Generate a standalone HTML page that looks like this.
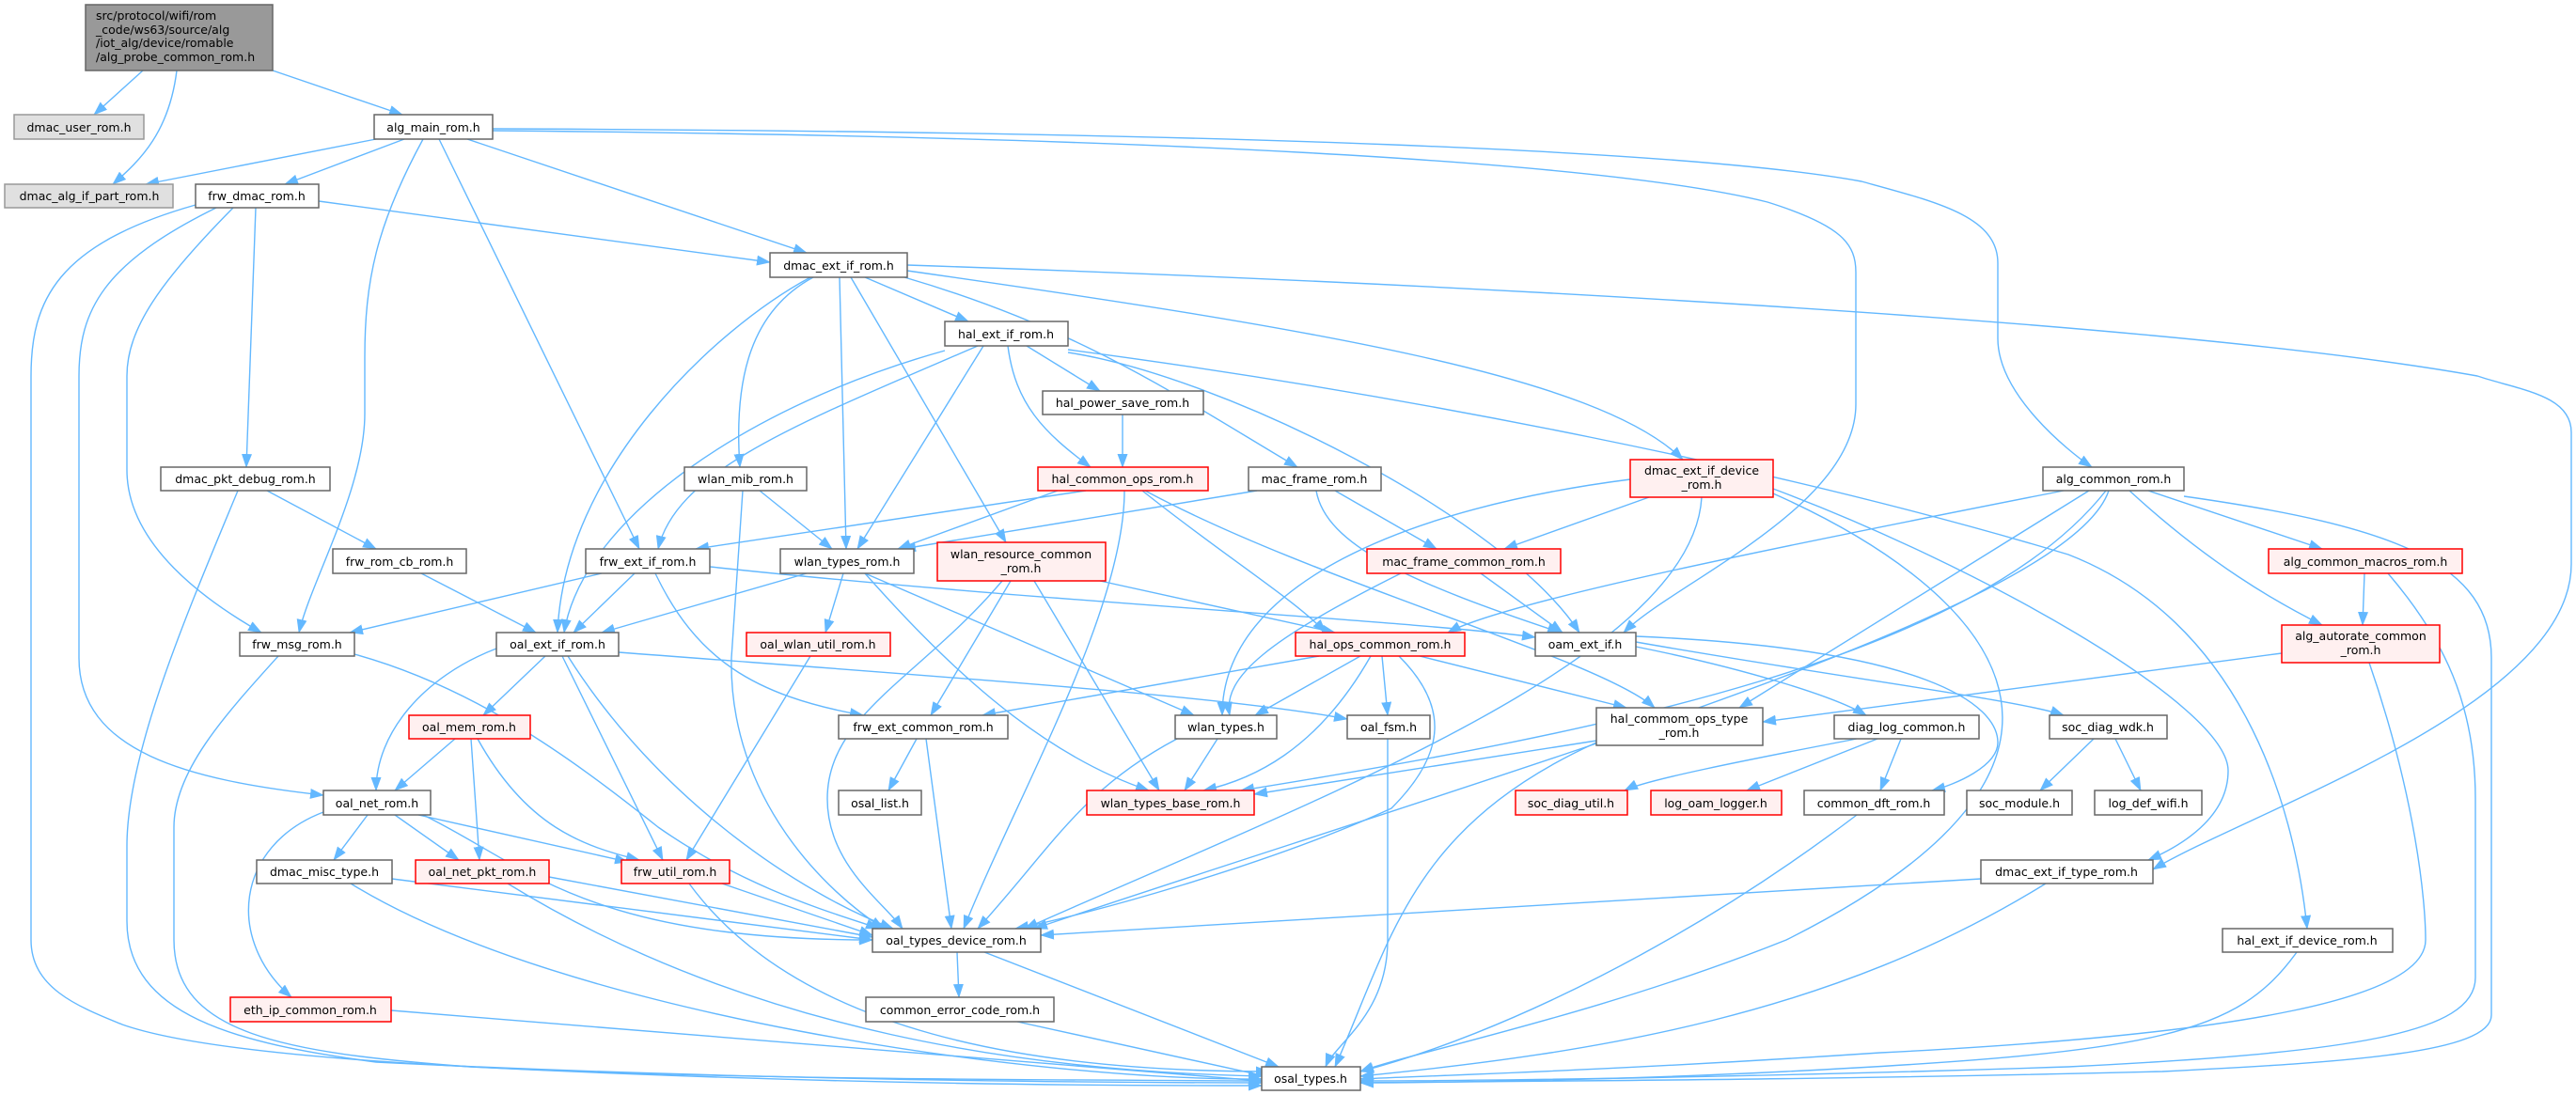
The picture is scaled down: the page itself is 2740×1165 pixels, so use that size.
<!DOCTYPE html>
<html><head><meta charset="utf-8"><style>
html,body{margin:0;padding:0;background:#fff;}
svg{display:block;}
text{font-family:"DejaVu Sans","Liberation Sans",sans-serif;font-size:12.5px;fill:#000;}
.e{fill:none;stroke:#63b8ff;stroke-width:1.4;marker-end:url(#a);}
.n{fill:#fff;stroke:#666;stroke-width:1.5;}
.r{fill:#fff0f0;stroke:#ff0000;stroke-width:1.5;}
.g{fill:#e0e0e0;stroke:#999;stroke-width:1.5;}
</style></head><body>
<svg width="2740" height="1165" viewBox="0 0 2740 1165" xmlns="http://www.w3.org/2000/svg">
<defs><marker id="a" markerUnits="userSpaceOnUse" markerWidth="15" markerHeight="11" refX="14" refY="5.5" orient="auto"><path d="M0,0 L15,5.5 L0,11 z" fill="#63b8ff"/></marker></defs>
<g>
<path class="e" d="M152,75 L100,122"/>
<path class="e" d="M188,75 C180,140 150,170 120,196"/>
<path class="e" d="M290,75 L428,122"/>
<path class="e" d="M400,148 L155,196"/>
<path class="e" d="M430,148 L303,196"/>
<path class="e" d="M450,148 C400,240 388,300 388,380 L388,440 C388,520 330,620 318,673"/>
<path class="e" d="M467,148 L680,584"/>
<path class="e" d="M497,148 L858,269"/>
<path class="e" d="M524,139 C1200,145 1700,170 1880,215 C1960,240 1974,260 1974,290 L1974,430 C1974,540 1780,620 1727,673"/>
<path class="e" d="M524,137 C1300,140 1800,160 1980,193 C2060,215 2125,230 2125,280 L2125,360 C2125,420 2200,480 2225,497"/>
<path class="e" d="M208,218 C60,260 33,320 33,400 L33,1000 C33,1050 80,1070 130,1090 C300,1150 1000,1148 1342,1150"/>
<path class="e" d="M230,221 C110,280 84,330 84,400 L84,700 C84,800 200,830 344,846"/>
<path class="e" d="M248,221 C170,300 135,350 135,400 L135,500 C135,580 220,640 278,673"/>
<path class="e" d="M272,221 L262,497"/>
<path class="e" d="M339,214 L819,279"/>
<path class="e" d="M284,522 L400,584"/>
<path class="e" d="M253,522 C200,650 135,800 135,900 L135,980 C135,1080 250,1110 400,1130 C800,1150 1200,1152 1342,1152"/>
<path class="e" d="M448,610 L570,673"/>
<path class="e" d="M296,698 C240,760 185,820 185,880 L185,1000 C185,1100 300,1120 500,1135 C900,1155 1200,1155 1342,1155"/>
<path class="e" d="M377,696 C500,730 600,800 700,880 C800,950 900,975 935,988"/>
<path class="e" d="M640,610 L372,673"/>
<path class="e" d="M675,610 L610,673"/>
<path class="e" d="M697,610 C740,700 800,740 918,761"/>
<path class="e" d="M755,603 C1100,640 1500,660 1633,678"/>
<path class="e" d="M858,610 L640,673"/>
<path class="e" d="M897,610 L878,673"/>
<path class="e" d="M920,610 L1270,761"/>
<path class="e" d="M920,610 C1000,700 1100,800 1222,841"/>
<path class="e" d="M580,698 L514,761"/>
<path class="e" d="M528,690 C450,720 400,780 400,841"/>
<path class="e" d="M598,698 L705,915"/>
<path class="e" d="M604,698 C700,850 850,950 950,988"/>
<path class="e" d="M658,694 C1000,720 1300,740 1433,765"/>
<path class="e" d="M862,698 L730,915"/>
<path class="e" d="M484,786 L420,841"/>
<path class="e" d="M501,786 L510,915"/>
<path class="e" d="M508,786 C560,880 620,900 680,915"/>
<path class="e" d="M391,867 L355,915"/>
<path class="e" d="M420,867 L488,915"/>
<path class="e" d="M445,867 L668,917"/>
<path class="e" d="M344,864 C250,900 240,1000 310,1061"/>
<path class="e" d="M450,867 C560,920 620,1000 928,1000"/>
<path class="e" d="M417,935 L928,1000"/>
<path class="e" d="M373,940 C600,1080 1100,1150 1342,1148"/>
<path class="e" d="M584,933 L928,997"/>
<path class="e" d="M540,940 C800,1100 1100,1140 1342,1145"/>
<path class="e" d="M768,940 L928,995"/>
<path class="e" d="M733,940 C850,1100 1100,1140 1350,1140"/>
<path class="e" d="M416,1075 L1342,1150"/>
<path class="e" d="M920,295 L1030,342"/>
<path class="e" d="M865,295 C800,330 780,400 787,497"/>
<path class="e" d="M862,295 C760,350 600,500 593,673"/>
<path class="e" d="M893,295 L900,584"/>
<path class="e" d="M905,295 L1070,577"/>
<path class="e" d="M962,295 C1150,350 1250,420 1380,497"/>
<path class="e" d="M965,288 C1400,350 1700,400 1790,489"/>
<path class="e" d="M965,282 C1500,300 2300,340 2635,400 C2680,415 2735,420 2735,460 L2735,600 C2735,750 2400,860 2290,925"/>
<path class="e" d="M1092,368 L1170,416"/>
<path class="e" d="M1072,368 C1080,430 1110,460 1160,497"/>
<path class="e" d="M1046,368 L912,584"/>
<path class="e" d="M1005,373 C800,430 620,550 600,673"/>
<path class="e" d="M1040,368 C850,450 720,500 700,584"/>
<path class="e" d="M1136,375 C1300,400 1600,550 1680,673"/>
<path class="e" d="M1136,372 C1500,420 1900,500 2200,590 C2380,660 2440,850 2454,988"/>
<path class="e" d="M1194,441 L1194,497"/>
<path class="e" d="M1125,522 L955,584"/>
<path class="e" d="M1155,522 L740,584"/>
<path class="e" d="M1215,522 C1300,590 1380,640 1410,673"/>
<path class="e" d="M1196,522 C1196,650 1080,850 1025,988"/>
<path class="e" d="M1218,522 C1400,620 1700,700 1760,753"/>
<path class="e" d="M1337,522 L960,584"/>
<path class="e" d="M1420,522 L1528,584"/>
<path class="e" d="M1400,522 C1410,580 1500,620 1660,673"/>
<path class="e" d="M1754,529 L1600,584"/>
<path class="e" d="M1734,510 C1500,540 1300,620 1300,761"/>
<path class="e" d="M1810,529 C1800,700 1400,850 1090,988"/>
<path class="e" d="M1886,525 C2100,620 2300,800 1900,1000 C1700,1080 1500,1120 1447,1140"/>
<path class="e" d="M1886,520 C2100,600 2370,750 2370,820 C2370,870 2320,900 2285,915"/>
<path class="e" d="M2195,522 C1900,580 1600,640 1540,673"/>
<path class="e" d="M2222,522 L1850,753"/>
<path class="e" d="M2240,522 C2100,700 1700,780 1320,841"/>
<path class="e" d="M2243,522 C2200,650 1600,820 1100,988"/>
<path class="e" d="M2285,522 L2470,584"/>
<path class="e" d="M2265,522 C2350,600 2420,640 2470,665"/>
<path class="e" d="M2323,528 C2550,560 2650,600 2650,700 L2650,1080 C2650,1120 2500,1130 2300,1140 C1900,1150 1600,1150 1447,1152"/>
<path class="e" d="M2515,610 L2513,665"/>
<path class="e" d="M2540,610 C2600,680 2633,750 2633,850 L2633,1040 C2633,1100 2500,1120 2200,1135 C1900,1145 1600,1150 1447,1150"/>
<path class="e" d="M2427,695 L1875,768"/>
<path class="e" d="M2520,705 C2570,850 2580,960 2580,1000 C2580,1060 2400,1100 2000,1120 C1700,1140 1500,1145 1447,1148"/>
<path class="e" d="M1170,618 L1420,673"/>
<path class="e" d="M1075,618 L990,761"/>
<path class="e" d="M1100,618 L1233,841"/>
<path class="e" d="M1066,618 C980,720 880,760 880,850 C880,920 940,960 960,988"/>
<path class="e" d="M1490,610 C1350,680 1300,720 1308,761"/>
<path class="e" d="M1575,610 L1662,673"/>
<path class="e" d="M1403,698 L1045,761"/>
<path class="e" d="M1447,698 L1335,761"/>
<path class="e" d="M1458,698 C1400,800 1330,830 1280,841"/>
<path class="e" d="M1470,698 L1476,761"/>
<path class="e" d="M1510,698 L1730,753"/>
<path class="e" d="M1488,698 C1540,750 1540,800 1480,860 C1350,920 1150,975 1080,988"/>
<path class="e" d="M1740,688 C1850,710 1950,740 1985,761"/>
<path class="e" d="M1740,683 C1950,720 2150,745 2195,761"/>
<path class="e" d="M1740,677 C2050,690 2125,750 2125,790 C2125,815 2080,835 2055,841"/>
<path class="e" d="M975,786 L945,841"/>
<path class="e" d="M985,786 L1012,988"/>
<path class="e" d="M1295,786 L1260,841"/>
<path class="e" d="M1252,786 C1150,840 1120,900 1040,988"/>
<path class="e" d="M1476,786 L1476,1000 C1476,1080 1420,1110 1410,1135"/>
<path class="e" d="M1698,788 L1334,845"/>
<path class="e" d="M1698,790 C1500,880 1480,1000 1420,1135"/>
<path class="e" d="M1975,786 C1850,810 1750,830 1728,841"/>
<path class="e" d="M1997,786 L1858,841"/>
<path class="e" d="M2022,786 L2000,841"/>
<path class="e" d="M2227,786 L2170,841"/>
<path class="e" d="M2250,786 L2277,841"/>
<path class="e" d="M1975,867 C1800,1000 1600,1100 1447,1140"/>
<path class="e" d="M2107,935 L1107,995"/>
<path class="e" d="M2176,940 C1950,1080 1700,1120 1447,1145"/>
<path class="e" d="M2443,1013 C2380,1100 2300,1120 1900,1140 C1700,1150 1500,1152 1447,1152"/>
<path class="e" d="M1018,1013 L1020,1061"/>
<path class="e" d="M1047,1013 L1360,1135"/>
<path class="e" d="M1082,1087 L1360,1148"/>
<path class="e" d="M808,522 L885,584"/>
<path class="e" d="M790,522 L778,700 C775,850 880,950 940,988"/>
</g>
<g text-anchor="middle">
<rect x="91" y="5" width="199" height="70" fill="#999" stroke="#666" stroke-width="1.5"/>
<text x="102" y="21" text-anchor="start">src/protocol/wifi/rom</text>
<text x="102" y="36" text-anchor="start">_code/ws63/source/alg</text>
<text x="102" y="50" text-anchor="start">/iot_alg/device/romable</text>
<text x="102" y="65" text-anchor="start">/alg_probe_common_rom.h</text>

<rect class="g" x="15" y="122" width="138" height="26"/><text x="84" y="140">dmac_user_rom.h</text>
<rect class="n" x="398" y="122" width="126" height="26"/><text x="461" y="140">alg_main_rom.h</text>
<rect class="g" x="5" y="196" width="179" height="25"/><text x="95" y="213">dmac_alg_if_part_rom.h</text>
<rect class="n" x="208" y="196" width="131" height="25"/><text x="273" y="213">frw_dmac_rom.h</text>
<rect class="n" x="819" y="269" width="146" height="26"/><text x="892" y="287">dmac_ext_if_rom.h</text>
<rect class="n" x="1005" y="342" width="131" height="26"/><text x="1070" y="360">hal_ext_if_rom.h</text>
<rect class="n" x="1109" y="416" width="171" height="25"/><text x="1194" y="433">hal_power_save_rom.h</text>
<rect class="n" x="171" y="497" width="180" height="25"/><text x="261" y="514">dmac_pkt_debug_rom.h</text>
<rect class="n" x="728" y="497" width="130" height="25"/><text x="793" y="514">wlan_mib_rom.h</text>
<rect class="r" x="1104" y="497" width="181" height="25"/><text x="1194" y="514">hal_common_ops_rom.h</text>
<rect class="n" x="1328" y="497" width="141" height="25"/><text x="1398" y="514">mac_frame_rom.h</text>
<rect class="r" x="1734" y="489" width="152" height="40"/><text x="1810" y="505">dmac_ext_if_device</text><text x="1810" y="520">_rom.h</text>
<rect class="n" x="2173" y="497" width="150" height="25"/><text x="2248" y="514">alg_common_rom.h</text>
<rect class="n" x="354" y="584" width="142" height="26"/><text x="425" y="602">frw_rom_cb_rom.h</text>
<rect class="n" x="623" y="584" width="132" height="26"/><text x="689" y="602">frw_ext_if_rom.h</text>
<rect class="n" x="830" y="584" width="142" height="26"/><text x="901" y="602">wlan_types_rom.h</text>
<rect class="r" x="997" y="577" width="179" height="41"/><text x="1086" y="594">wlan_resource_common</text><text x="1086" y="609">_rom.h</text>
<rect class="r" x="1454" y="584" width="206" height="26"/><text x="1557" y="602">mac_frame_common_rom.h</text>
<rect class="r" x="2413" y="584" width="206" height="26"/><text x="2516" y="602">alg_common_macros_rom.h</text>
<rect class="n" x="255" y="673" width="122" height="25"/><text x="316" y="690">frw_msg_rom.h</text>
<rect class="n" x="528" y="673" width="130" height="25"/><text x="593" y="690">oal_ext_if_rom.h</text>
<rect class="r" x="794" y="673" width="153" height="25"/><text x="870" y="690">oal_wlan_util_rom.h</text>
<rect class="r" x="1378" y="673" width="180" height="25"/><text x="1468" y="690">hal_ops_common_rom.h</text>
<rect class="n" x="1633" y="673" width="107" height="25"/><text x="1686" y="690">oam_ext_if.h</text>
<rect class="r" x="2427" y="665" width="168" height="40"/><text x="2511" y="681">alg_autorate_common</text><text x="2511" y="696">_rom.h</text>
<rect class="r" x="435" y="761" width="129" height="25"/><text x="499" y="778">oal_mem_rom.h</text>
<rect class="n" x="892" y="761" width="180" height="25"/><text x="982" y="778">frw_ext_common_rom.h</text>
<rect class="n" x="1250" y="761" width="108" height="25"/><text x="1304" y="778">wlan_types.h</text>
<rect class="n" x="1433" y="761" width="88" height="25"/><text x="1477" y="778">oal_fsm.h</text>
<rect class="n" x="1698" y="753" width="177" height="40"/><text x="1786" y="769">hal_commom_ops_type</text><text x="1786" y="784">_rom.h</text>
<rect class="n" x="1951" y="761" width="154" height="25"/><text x="2028" y="778">diag_log_common.h</text>
<rect class="n" x="2180" y="761" width="125" height="25"/><text x="2242" y="778">soc_diag_wdk.h</text>
<rect class="n" x="344" y="841" width="114" height="26"/><text x="401" y="859">oal_net_rom.h</text>
<rect class="n" x="892" y="841" width="88" height="26"/><text x="936" y="859">osal_list.h</text>
<rect class="r" x="1156" y="841" width="178" height="26"/><text x="1245" y="859">wlan_types_base_rom.h</text>
<rect class="r" x="1612" y="841" width="119" height="26"/><text x="1671" y="859">soc_diag_util.h</text>
<rect class="r" x="1756" y="841" width="139" height="26"/><text x="1825" y="859">log_oam_logger.h</text>
<rect class="n" x="1919" y="841" width="149" height="26"/><text x="1993" y="859">common_dft_rom.h</text>
<rect class="n" x="2092" y="841" width="112" height="26"/><text x="2148" y="859">soc_module.h</text>
<rect class="n" x="2228" y="841" width="114" height="26"/><text x="2285" y="859">log_def_wifi.h</text>
<rect class="n" x="273" y="915" width="144" height="25"/><text x="345" y="932">dmac_misc_type.h</text>
<rect class="r" x="442" y="915" width="142" height="25"/><text x="513" y="932">oal_net_pkt_rom.h</text>
<rect class="r" x="661" y="915" width="115" height="25"/><text x="718" y="932">frw_util_rom.h</text>
<rect class="n" x="2107" y="915" width="183" height="25"/><text x="2198" y="932">dmac_ext_if_type_rom.h</text>
<rect class="n" x="928" y="988" width="179" height="25"/><text x="1017" y="1005">oal_types_device_rom.h</text>
<rect class="n" x="2364" y="988" width="181" height="25"/><text x="2454" y="1005">hal_ext_if_device_rom.h</text>
<rect class="r" x="245" y="1061" width="171" height="26"/><text x="330" y="1079">eth_ip_common_rom.h</text>
<rect class="n" x="921" y="1061" width="200" height="26"/><text x="1021" y="1079">common_error_code_rom.h</text>
<rect class="n" x="1342" y="1135" width="105" height="25"/><text x="1394" y="1152">osal_types.h</text>
</g>
</svg>
</body></html>
